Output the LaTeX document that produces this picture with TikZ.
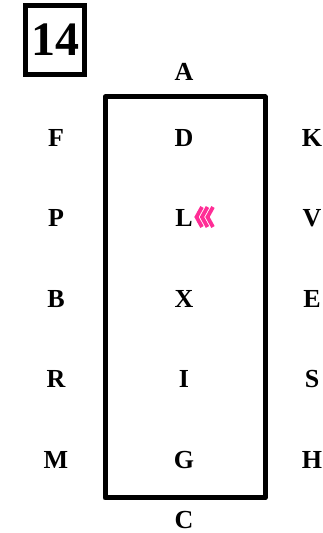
\documentclass[tikz,border=0pt]{standalone}
\usepackage{fontspec}
\setmainfont{Liberation Serif}
\usetikzlibrary{positioning}
\definecolor{lineclr}{RGB}{0,0,0}
\definecolor{chevclr}{RGB}{255,45,150}
\tikzset{
  mark letter/.style={font=\fontsize{26}{29}\selectfont\bfseries,inner sep=0pt,text=lineclr},
  numbox/.style={rectangle,draw=lineclr,line width=5pt,minimum width=59pt,
    minimum height=69pt,inner sep=0pt,font=\fontsize{48}{52}\selectfont\bfseries},
  arena/.style={draw=lineclr,line width=5pt,line join=round},
  chev/.style={draw=chevclr,line width=3.8pt,line join=miter},
}
\begin{document}
\begin{tikzpicture}[x=1pt,y=1pt]
  \useasboundingbox (0,0) rectangle (323,533);
  \node[numbox] (num) at (55,493) {14};

  \draw[arena] (105,436) rectangle (265,35);

  \node[mark letter] (A) at (184,461) {A};
  \node[mark letter] (D) at (184,395) {D};
  \node[mark letter] (L) at (184,315) {L};
  \node[mark letter] (X) at (184,234) {X};
  \node[mark letter] (I) at (184,154) {I};
  \node[mark letter] (G) at (184,73)  {G};
  \node[mark letter] (C) at (184,13)  {C};

  \node[mark letter] (F) at (56,395) {F};
  \node[mark letter] (P) at (56,315) {P};
  \node[mark letter] (B) at (56,234) {B};
  \node[mark letter] (R) at (56,154) {R};
  \node[mark letter] (M) at (56,73)  {M};

  \node[mark letter] (K) at (312,395) {K};
  \node[mark letter] (V) at (312,315) {V};
  \node[mark letter] (E) at (312,234) {E};
  \node[mark letter] (S) at (312,154) {S};
  \node[mark letter] (H) at (312,73)  {H};

  % chevrons next to L
  \draw[chev] (202,326) -- (196.5,316) -- (202,306);
  \draw[chev] (207.5,326) -- (202,316) -- (207.5,306);
  \draw[chev] (213,326) -- (207.5,316) -- (213,306);
\end{tikzpicture}
\end{document}
